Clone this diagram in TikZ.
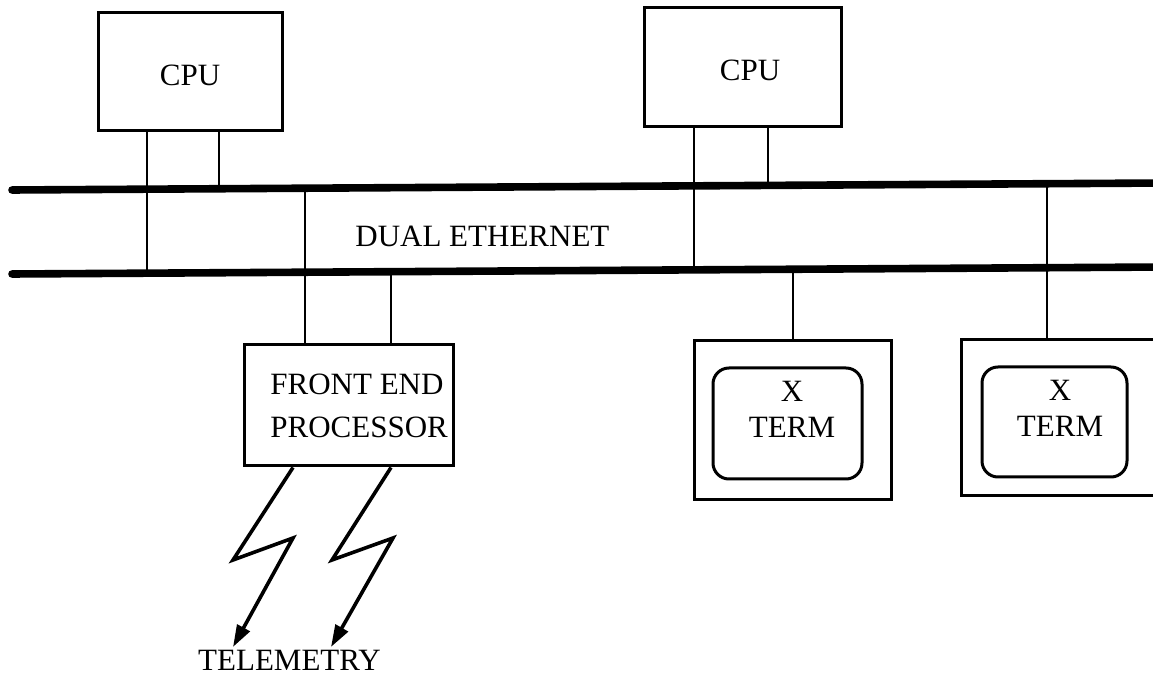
\documentclass[tikz,border=0pt]{standalone}
\usepackage{fontspec}
\setmainfont{Liberation Serif}
\usetikzlibrary{arrows.meta}
\begin{document}
\begin{tikzpicture}[x=0.5pt,y=-0.5pt,
  box/.style={draw, line width=1.5pt, rectangle, inner sep=0pt},
  scr/.style={draw, line width=1.5pt, rounded corners=8pt, rectangle, inner sep=0pt},
  lbl/.style={font=\fontsize{15.5}{18}\selectfont, inner sep=0pt},
  tap/.style={line width=1.3pt},
  ether/.style={line width=3.8pt, line cap=round},
  bolt/.style={line width=1.8pt, line join=miter, -{Triangle[length=11pt,width=7pt]}}]
\fill[white] (0,0) rectangle (1153,684);
\useasboundingbox (0,0) rectangle (1153,684);
\clip (0,0) rectangle (1153,684);

% dual ethernet
\coordinate (topL) at (12,190);
\coordinate (topR) at (1165,183);
\coordinate (botL) at (12,274);
\coordinate (botR) at (1165,267);
\draw[ether] (topL) -- (topR);
\draw[ether] (botL) -- (botR);
\node[lbl, anchor=base west] (eth) at (355,247) {DUAL ETHERNET};

% boxes
\node[box, minimum width=92pt, minimum height=59pt] (cpu1) at (190,72) {};
\node[lbl] (cpu1t) at (190,75) {CPU};
\node[box, minimum width=98.5pt, minimum height=59.5pt] (cpu2) at (742.5,67.5) {};
\node[lbl] (cpu2t) at (750,70) {CPU};
\node[box, minimum width=104.5pt, minimum height=60.5pt] (fep) at (348.5,405.5) {};
\node[lbl, anchor=base west] (fep1) at (270,395) {FRONT END};
\node[lbl, anchor=base west] (fep2) at (270,438) {PROCESSOR};

\node[box, minimum width=98.5pt, minimum height=79.5pt] (xt1) at (792.5,420.5) {};
\node[scr, minimum width=74.5pt, minimum height=55.5pt] (sc1) at (787.5,423.5) {};
\node[lbl, anchor=base] (xt1a) at (792,402) {X};
\node[lbl, anchor=base] (xt1b) at (792,438) {TERM};

\node[box, minimum width=104.5pt, minimum height=78pt] (xt2) at (1065.5,418) {};
\node[scr, minimum width=72.5pt, minimum height=55pt] (sc2) at (1054.5,422) {};
\node[lbl, anchor=base] (xt2a) at (1060,401) {X};
\node[lbl, anchor=base] (xt2b) at (1060,437) {TERM};

% taps on the ethernet
\coordinate (e1) at (147,273.2);
\coordinate (e2) at (219,188.7);
\coordinate (e3) at (305,188.2);
\coordinate (e4) at (391,271.7);
\coordinate (e5) at (694,269.8);
\coordinate (e6) at (768,185.4);
\coordinate (e7) at (793,269.2);
\coordinate (e8) at (1047,183.7);
\draw[tap] (cpu1.south -| e1) -- (e1);
\draw[tap] (cpu1.south -| e2) -- (e2);
\draw[tap] (e3) -- (fep.north -| e3);
\draw[tap] (e4) -- (fep.north -| e4);
\draw[tap] (cpu2.south -| e5) -- (e5);
\draw[tap] (cpu2.south -| e6) -- (e6);
\draw[tap] (e7) -- (xt1.north -| e7);
\draw[tap] (e8) -- (xt2.north -| e8);

% telemetry links
\coordinate (b1) at (293,466);
\coordinate (b2) at (391,466);
\coordinate (tele1) at (233,647);
\coordinate (tele2) at (331,647);
\draw[bolt] (fep.south -| b1) -- (233,560) -- (293,538) -- (tele1);
\draw[bolt] (fep.south -| b2) -- (332,560) -- (393,538) -- (tele2);
\node[lbl, anchor=base] (tele) at (289.5,670) {TELEMETRY};
\end{tikzpicture}
\end{document}
